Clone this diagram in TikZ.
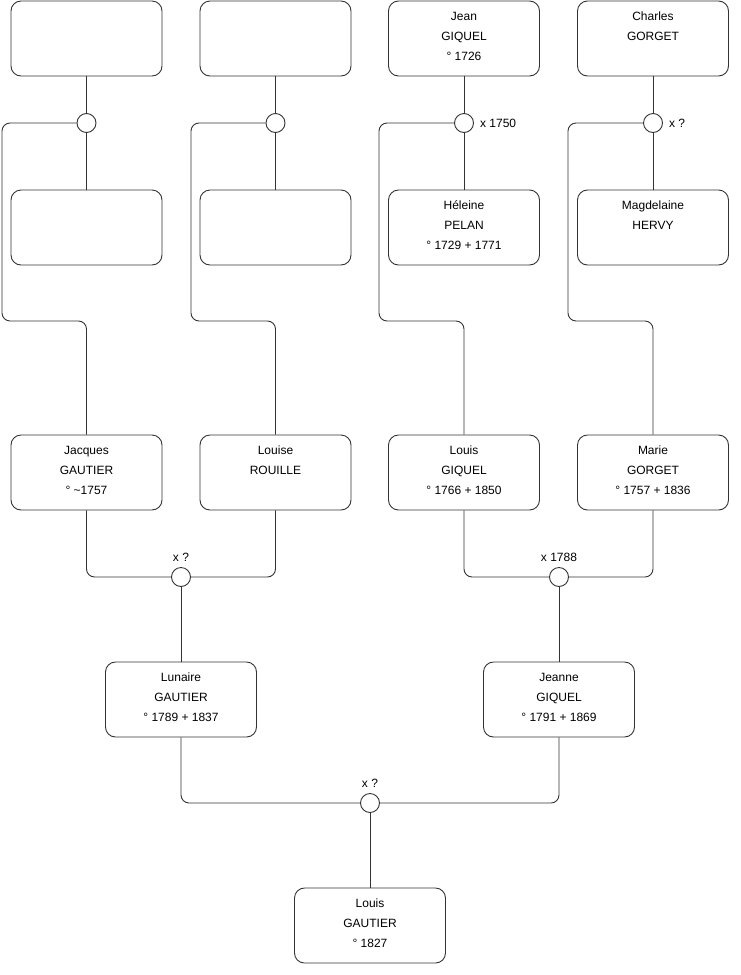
\documentclass[tikz,border=0pt]{standalone}
\usepackage{fontspec}
\setmainfont{Liberation Sans}
\begin{document}
\begin{tikzpicture}[x=1pt,y=-1pt,
  pbox/.style={draw=black!80,line width=0.9pt,rounded corners=10pt,minimum width=151pt,minimum height=75pt,inner sep=0pt},
  ptext/.style={anchor=north,yshift=-11pt,inner sep=0pt,align=center,font=\fontsize{12}{20}\selectfont},
  mcirc/.style={draw=black!80,line width=0.9pt,circle,minimum size=19pt,inner sep=0pt,fill=white},
  mlab/.style={inner sep=0pt,font=\fontsize{12}{14}\selectfont},
  conn/.style={draw=black!80,line width=0.9pt,rounded corners=8pt}]
\useasboundingbox (0,0) rectangle (740,975);
% row 1
\node[pbox] (a1) at (86.5,38.5) {};
\node[pbox] (a2) at (275.5,38.5) {};
\node[pbox] (jean) at (464,38.5) {};
\node[ptext] (jeant) at (jean.north) {Jean\\GIQUEL\\° 1726};
\node[pbox] (charles) at (653,38.5) {};
\node[ptext] (charlest) at (charles.north) {Charles\\GORGET};
% row 2
\node[pbox] (b1) at (86.5,227.5) {};
\node[pbox] (b2) at (275.5,227.5) {};
\node[pbox] (heleine) at (464,227.5) {};
\node[ptext] (heleinet) at (heleine.north) {Héleine\\PELAN\\° 1729 + 1771};
\node[pbox] (magd) at (653,227.5) {};
\node[ptext] (magdt) at (magd.north) {Magdelaine\\HERVY};
% row 3
\node[pbox] (jacques) at (86.5,472.5) {};
\node[ptext] (jacquest) at (jacques.north) {Jacques\\GAUTIER\\° \textasciitilde1757};
\node[pbox] (louise) at (275.5,472.5) {};
\node[ptext] (louiset) at (louise.north) {Louise\\ROUILLE};
\node[pbox] (louisg) at (464,472.5) {};
\node[ptext] (louisgt) at (louisg.north) {Louis\\GIQUEL\\° 1766 + 1850};
\node[pbox] (marie) at (653,472.5) {};
\node[ptext] (mariet) at (marie.north) {Marie\\GORGET\\° 1757 + 1836};
% row 4
\node[pbox] (lunaire) at (181,699.5) {};
\node[ptext] (lunairet) at (lunaire.north) {Lunaire\\GAUTIER\\° 1789 + 1837};
\node[pbox] (jeanne) at (559,699.5) {};
\node[ptext] (jeannet) at (jeanne.north) {Jeanne\\GIQUEL\\° 1791 + 1869};
% row 5
\node[pbox] (louis) at (370,925.5) {};
\node[ptext] (louist) at (louis.north) {Louis\\GAUTIER\\° 1827};
% marriage circles
\node[mcirc] (m1) at (86.5,123) {};
\node[mcirc] (m2) at (275.5,123) {};
\node[mcirc] (m3) at (464,123) {};
\node[mcirc] (m4) at (653,123) {};
\node[mcirc] (m5) at (181,577) {};
\node[mcirc] (m6) at (559,577) {};
\node[mcirc] (m7) at (370,803) {};
% labels
\node[mlab,anchor=west] (l3) at ([xshift=6pt]m3.east) {x 1750};
\node[mlab,anchor=west] (l4) at ([xshift=6pt]m4.east) {x ?};
\node[mlab,anchor=south] (l5) at ([yshift=5pt]m5.north) {x ?};
\node[mlab,anchor=south] (l6) at ([yshift=5pt]m6.north) {x 1788};
\node[mlab,anchor=south] (l7) at ([yshift=5pt]m7.north) {x ?};
% corner coordinates
\coordinate (k1a) at (2,123);   \coordinate (k1b) at (2,321);   \coordinate (k1c) at (86.5,321);
\coordinate (k2a) at (191,123); \coordinate (k2b) at (191,321); \coordinate (k2c) at (275.5,321);
\coordinate (k3a) at (379,123); \coordinate (k3b) at (379,321); \coordinate (k3c) at (464,321);
\coordinate (k4a) at (568,123); \coordinate (k4b) at (568,321); \coordinate (k4c) at (653,321);
% connectors row 1-2
\foreach \t/\m/\b in {a1/m1/b1,a2/m2/b2,jean/m3/heleine,charles/m4/magd}{
  \draw[conn] (\t.south) -- (\m.north);
  \draw[conn] (\m.south) -- (\b.north);
}
\draw[conn] (m1.west) -- (k1a) -- (k1b) -- (k1c) -- (jacques.north);
\draw[conn] (m2.west) -- (k2a) -- (k2b) -- (k2c) -- (louise.north);
\draw[conn] (m3.west) -- (k3a) -- (k3b) -- (k3c) -- (louisg.north);
\draw[conn] (m4.west) -- (k4a) -- (k4b) -- (k4c) -- (marie.north);
% row 3 unions
\draw[conn] (jacques.south) |- (m5.west);
\draw[conn] (louise.south) |- (m5.east);
\draw[conn] (m5.south) -- (lunaire.north);
\draw[conn] (louisg.south) |- (m6.west);
\draw[conn] (marie.south) |- (m6.east);
\draw[conn] (m6.south) -- (jeanne.north);
% row 4 union
\draw[conn] (lunaire.south) |- (m7.west);
\draw[conn] (jeanne.south) |- (m7.east);
\draw[conn] (m7.south) -- (louis.north);
\end{tikzpicture}
\end{document}
